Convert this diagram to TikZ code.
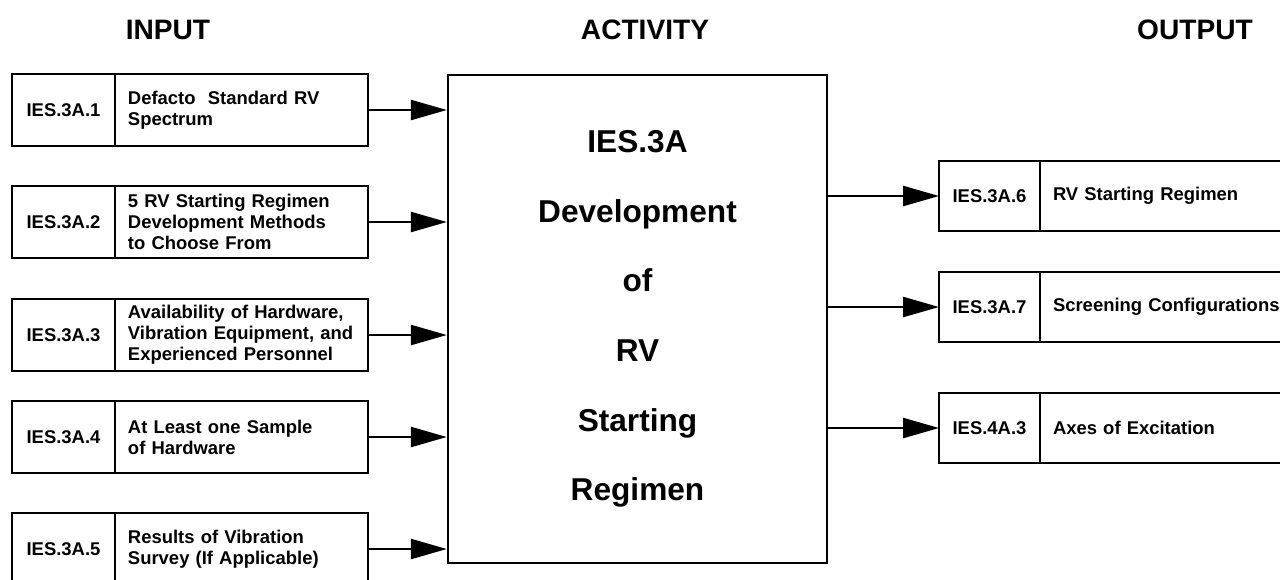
\documentclass[tikz,border=0pt]{standalone}
\usepackage{fontspec}
\setmainfont{Liberation Sans}
\usetikzlibrary{arrows.meta,positioning}

\begin{document}
\begin{tikzpicture}[
  x=0.02cm, y=-0.02cm,
  every node/.style={font=\bfseries\fontsize{10.5}{12}\selectfont},
  heading/.style={font=\bfseries\fontsize{16}{18}\selectfont},
  idbox/.style={rectangle, draw, line width=1.3pt, outer sep=0pt, inner sep=0pt,
                minimum width=2.06cm, minimum height=1.44cm},
  descbox/.style={rectangle, draw, line width=1.3pt, outer sep=0pt, align=left,
                  inner xsep=0.26cm, text width=4.54cm, minimum height=1.44cm},
  outid/.style={idbox, minimum width=2.02cm, minimum height=1.39cm},
  outdesc/.style={descbox, text width=5.6cm, minimum height=1.39cm},
  activity/.style={rectangle, draw, line width=1.4pt, align=center,
                   minimum width=7.58cm, minimum height=9.76cm,
                   font=\bfseries\fontsize{18}{39.6}\selectfont},
  arrow/.style={-{Triangle[length=0.72cm, width=0.4cm]}, line width=1.4pt}
]
\useasboundingbox (0,0) rectangle (1280,579);

% column headings
\node[heading] (hin) at (168,30) {INPUT};
\node[heading] (hact) at (645,30) {ACTIVITY};
\node[heading] (hout) at (1195,30) {OUTPUT};

% activity
\node[activity] (act) at (637.5,319)
      {IES.3A\\Development\\of\\RV\\Starting\\Regimen};

% inputs
\node[idbox] (in1) at (63.5,110) {IES.3A.1};
\node[descbox, right=0pt of in1] (in1d) {Defacto\ \ Standard RV\\Spectrum};
\node[idbox] (in2) at (63.5,222) {IES.3A.2};
\node[descbox, right=0pt of in2] (in2d)
      {5 RV Starting Regimen\\Development Methods\\to Choose From};
\node[idbox] (in3) at (63.5,335) {IES.3A.3};
\node[descbox, right=0pt of in3] (in3d)
      {Availability of Hardware,\\Vibration Equipment, and\\Experienced Personnel};
\node[idbox] (in4) at (63.5,437) {IES.3A.4};
\node[descbox, right=0pt of in4] (in4d) {At Least one Sample\\of Hardware};
\node[idbox] (in5) at (63.5,549) {IES.3A.5};
\node[descbox, right=0pt of in5] (in5d) {Results of Vibration\\Survey (If Applicable)};

% outputs
\node[outid] (out1) at (989.5,196) {IES.3A.6};
\node[outdesc, right=0pt of out1] (out1d) {RV Starting Regimen};
\node[outid] (out2) at (989.5,307) {IES.3A.7};
\node[outdesc, right=0pt of out2] (out2d) {Screening Configurations};
\node[outid] (out3) at (989.5,428) {IES.4A.3};
\node[outdesc, right=0pt of out3] (out3d) {Axes of Excitation};

\draw[arrow] (in1d.east) -- (in1d.east -| act.west);
\draw[arrow] (in2d.east) -- (in2d.east -| act.west);
\draw[arrow] (in3d.east) -- (in3d.east -| act.west);
\draw[arrow] (in4d.east) -- (in4d.east -| act.west);
\draw[arrow] (in5d.east) -- (in5d.east -| act.west);
\draw[arrow] (out1.west -| act.east) -- (out1.west);
\draw[arrow] (out2.west -| act.east) -- (out2.west);
\draw[arrow] (out3.west -| act.east) -- (out3.west);

\end{tikzpicture}
\end{document}
